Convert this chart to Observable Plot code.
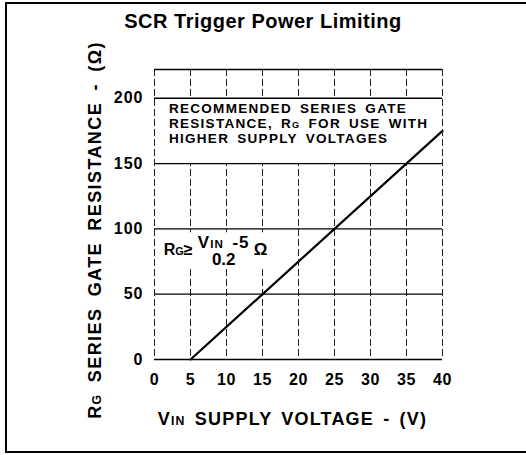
<!DOCTYPE html>
<html><head><meta charset="utf-8">
<script src="https://cdn.jsdelivr.net/npm/d3@7"></script>
<script src="https://cdn.jsdelivr.net/npm/@observablehq/plot@0.6"></script>
<style>
html,body{margin:0;padding:0;background:#fff;overflow:hidden;}
.edge{position:absolute;background:#000;z-index:5;}
#title{position:absolute;left:0;top:10px;width:526px;text-align:center;font:bold 20px "Liberation Sans",Arial,sans-serif;letter-spacing:0.5px;color:#000;z-index:4;}
#chart{position:absolute;left:0;top:40px;width:526px;height:415px;overflow:hidden;}
</style></head><body>
<div id="chart"></div>
<div id="title">SCR Trigger Power Limiting</div>
<div class="edge" style="left:5px;top:2px;width:521px;height:2px"></div>
<div class="edge" style="left:5px;top:2px;width:2px;height:451px"></div>
<div class="edge" style="left:5px;top:451px;width:521px;height:2px"></div>
<script>
// ---- data ----
const xTicks = [0, 5, 10, 15, 20, 25, 30, 35, 40];
const yTicks = [0, 50, 100, 150, 200];
const yMax = 222;
const vin = [5, 40];          // supply voltage (V)
const rg = [0, 175];          // series gate resistance (ohm)
const noteLines = ["RECOMMENDED SERIES GATE", "RESISTANCE, R{G} FOR USE WITH", "HIGHER SUPPLY VOLTAGES"];
const noteAt = [{x: 2, y: 197}];
const xLabel = "V{IN} SUPPLY VOLTAGE - (V)";
const yLabel = "R{G} SERIES GATE RESISTANCE - (Ω)";
const formulaLhs = "R{G}≥";
const formulaNum = "V{IN} -5";
const formulaDen = "0.2";
const formulaUnit = "Ω";
const formulaAt = [{x: 1, y: 85}];
const formulaMask = [{x1: 0.3, x2: 16, y1: 70, y2: 97}];

// ---- derived tables ----
const lineData = vin.map((v, i) => ({vin: v, rg: rg[i]}));
const noteBand = [{x1: xTicks[0], x2: xTicks[xTicks.length - 1], y1: yTicks[3], y2: yTicks[4]}];
const font = '"Liberation Sans", Arial, Helvetica, sans-serif';

const plot = Plot.plot({
  width: 526, height: 415,
  marginLeft: 154, marginRight: 84, marginTop: 29, marginBottom: 96,
  x: {domain: [0, 40], ticks: xTicks, tickSize: 0, tickPadding: 14, label: null},
  y: {domain: [0, yMax], ticks: yTicks, tickSize: 0, tickPadding: 11, label: null},
  style: {fontFamily: font, fontSize: "16px", fontWeight: "bold", color: "#000", background: "#fff"},
  marks: [
    Plot.ruleX(xTicks.slice(1, -1), {stroke: "#222", strokeWidth: 1, strokeDasharray: "7,3"}),
    Plot.rect(noteBand, {x1: "x1", x2: "x2", y1: "y1", y2: "y2", fill: "white"}),
    Plot.rect(formulaMask, {x1: "x1", x2: "x2", y1: "y1", y2: "y2", fill: "white"}),
    Plot.ruleX([xTicks[0], xTicks[xTicks.length - 1]], {stroke: "#222", strokeWidth: 1, strokeDasharray: "7,3"}),
    Plot.ruleY(yTicks.slice(1), {stroke: "#000", strokeWidth: 1.3}),
    Plot.ruleY([0, yMax], {stroke: "#000", strokeWidth: 1.3}),
    Plot.line(lineData, {x: "vin", y: "rg", stroke: "#000", strokeWidth: 2.2}),
    Plot.text(noteAt, {x: "x", y: "y", text: () => noteLines.join("\n"), textAnchor: "start", lineAnchor: "top", lineHeight: 1.12, fontSize: 13.5, fontWeight: "bold", ariaDescription: "note"}),
    Plot.text(formulaAt, {x: "x", y: "y", text: () => formulaLhs, textAnchor: "start", dx: 2, dy: 1, fontSize: 16, fontWeight: "bold", ariaDescription: "formula"}),
    Plot.text(formulaAt, {x: "x", y: "y", text: () => formulaNum, textAnchor: "middle", dx: 62, dy: -6, fontSize: 17, fontWeight: "bold", ariaDescription: "formula-num"}),
    Plot.text(formulaAt, {x: "x", y: "y", text: () => formulaDen, textAnchor: "middle", dx: 62, dy: 11.5, fontSize: 17, fontWeight: "bold", ariaDescription: "formula"}),
    Plot.text(formulaAt, {x: "x", y: "y", text: () => formulaUnit, textAnchor: "start", dx: 92, dy: 1.5, fontSize: 17, fontWeight: "bold", ariaDescription: "formula"}),
    Plot.text([xLabel], {frameAnchor: "bottom", text: d => d, textAnchor: "middle", dx: -6, dy: 65.5, fontSize: 18, fontWeight: "bold", ariaDescription: "xlabel"}),
    Plot.text([yLabel], {frameAnchor: "left", text: d => d, textAnchor: "middle", rotate: -90, dx: -59, dy: 15.5, fontSize: 18, fontWeight: "bold", ariaDescription: "ylabel"})
  ]
});
document.getElementById("chart").appendChild(plot);

// small-capital subscripts (the "G" of RG, the "IN" of VIN)
function smallify(el) {
  const kids = Array.from(el.childNodes).filter(n => n.nodeType === 1 && n.tagName.toLowerCase() === "tspan");
  if (kids.length) { kids.forEach(smallify); return; }
  const s = el.textContent;
  if (!s.includes("{")) return;
  el.textContent = "";
  const re = /\{([^}]*)\}/g; let last = 0, m;
  while ((m = re.exec(s))) {
    if (m.index > last) el.appendChild(document.createTextNode(s.slice(last, m.index)));
    const t = document.createElementNS("http://www.w3.org/2000/svg", "tspan");
    t.setAttribute("font-size", "0.68em");
    t.textContent = m[1];
    el.appendChild(t);
    last = re.lastIndex;
  }
  if (last < s.length) el.appendChild(document.createTextNode(s.slice(last)));
}
const svg = d3.select(plot);
svg.selectAll("text").each(function() { smallify(this); });
function spacing(desc, ls, ws) {
  svg.selectAll(`g[aria-description="${desc}"] text`).style("letter-spacing", ls).style("word-spacing", ws);
}
spacing("note", "1.3px", "3px");
spacing("formula-num", "1px", "3px");
spacing("xlabel", "1.2px", "3px");
spacing("ylabel", "1.4px", "5px");
svg.selectAll('g[aria-label^="y-axis"] text').style("letter-spacing", "1px");
svg.selectAll('g[aria-label^="x-axis"] text').style("letter-spacing", "0.5px");
</script>
</body></html>
